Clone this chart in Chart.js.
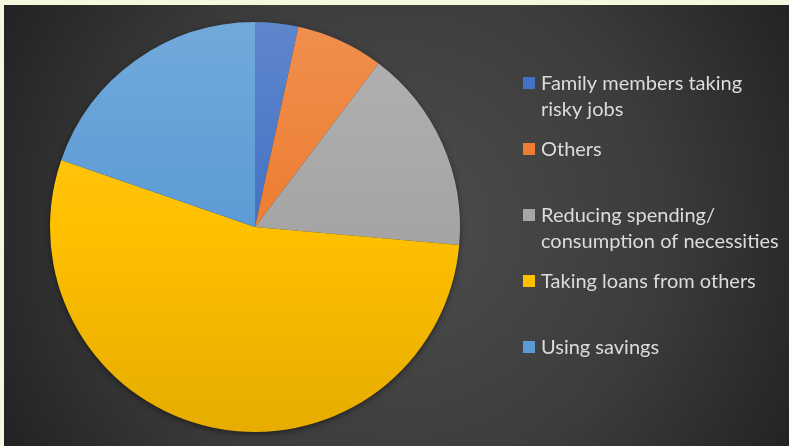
<!DOCTYPE html>
<html>
<head>
<meta charset="utf-8">
<script src="https://cdn.jsdelivr.net/npm/chart.js@4/dist/chart.umd.min.js"></script>
<style>
  html, body { margin: 0; padding: 0; background: #f3f8df; }
  #wrap { position: relative; width: 789px; height: 446px; }
</style>
</head>
<body>
<div id="wrap"><canvas id="c" width="789" height="446"></canvas></div>
<script>
// Coping strategies, share of households (%)
const categories = [
  ['Family members taking', 'risky jobs'],
  ['Others'],
  ['Reducing spending/', 'consumption of necessities'],
  ['Taking loans from others'],
  ['Using savings']
];
const shares = [3.4, 6.9, 16.1, 53.9, 19.7];
const sliceColors = ['#4472C4', '#ED7D31', '#A5A5A5', '#FFC000', '#5B9BD5'];

function shade(hex, amt) {
  const n = parseInt(hex.slice(1), 16);
  let r = (n >> 16) & 255, g = (n >> 8) & 255, b = n & 255;
  const t = amt > 0 ? 255 : 0, p = Math.abs(amt);
  r = Math.round(r + (t - r) * p);
  g = Math.round(g + (t - g) * p);
  b = Math.round(b + (t - b) * p);
  return `rgb(${r},${g},${b})`;
}

// Dark panel with a soft radial highlight
const panelBackground = {
  id: 'panelBackground',
  beforeDraw(chart) {
    const ctx = chart.ctx;
    ctx.save();
    ctx.fillStyle = '#f3f8df';
    ctx.fillRect(0, 0, chart.width, chart.height);
    const g = ctx.createRadialGradient(400, 225, 0, 400, 225, 470);
    g.addColorStop(0, '#4d4d4d');
    g.addColorStop(0.55, '#3c3c3c');
    g.addColorStop(1, '#202020');
    ctx.fillStyle = g;
    ctx.fillRect(4, 5, chart.width - 4, chart.height - 5);
    ctx.restore();
  }
};

// Soft drop shadow beneath the pie
const pieShadow = {
  id: 'pieShadow',
  beforeDatasetsDraw(chart) {
    const arc = chart.getDatasetMeta(0).data[0];
    if (!arc) return;
    const ctx = chart.ctx;
    ctx.save();
    ctx.shadowColor = 'rgba(0,0,0,0.6)';
    ctx.shadowBlur = 7;
    ctx.shadowOffsetY = 2;
    ctx.fillStyle = '#333';
    ctx.beginPath();
    ctx.arc(arc.x, arc.y, arc.outerRadius - 1, 0, Math.PI * 2);
    ctx.fill();
    ctx.restore();
  }
};

// Legend drawn at the right of the pie, one entry every 66px
const sideLegend = {
  id: 'sideLegend',
  afterDraw(chart, args, opts) {
    const ctx = chart.ctx;
    ctx.save();
    ctx.font = opts.font;
    ctx.textBaseline = 'alphabetic';
    chart.data.labels.forEach((lines, i) => {
      const top = opts.top + i * opts.step;
      ctx.fillStyle = sliceColors[i];
      ctx.fillRect(opts.x, top, opts.box, opts.box);
      ctx.fillStyle = opts.color;
      lines.forEach((ln, k) => {
        ctx.fillText(ln, opts.x + opts.box + 6, top + opts.box + 0.5 + k * opts.lineHeight);
      });
    });
    ctx.restore();
  }
};

new Chart(document.getElementById('c'), {
  type: 'pie',
  data: {
    labels: categories,
    datasets: [{
      data: shares,
      borderWidth: 0,
      backgroundColor(context) {
        const chart = context.chart;
        const area = chart.chartArea;
        const base = sliceColors[context.dataIndex];
        if (!area) return base;
        const g = chart.ctx.createLinearGradient(0, area.top, 0, area.bottom);
        g.addColorStop(0, shade(base, 0.14));
        g.addColorStop(0.5, base);
        g.addColorStop(1, shade(base, -0.1));
        return g;
      }
    }]
  },
  options: {
    responsive: false,
    animation: false,
    rotation: 0,
    layout: { padding: { left: 50, top: 22, right: 329, bottom: 14 } },
    plugins: {
      legend: { display: false },
      tooltip: { enabled: false },
      sideLegend: {
        x: 523, top: 77, step: 66, box: 12, lineHeight: 26,
        font: '20px Lato', color: '#dcdcdc'
      }
    }
  },
  plugins: [panelBackground, pieShadow, sideLegend]
});
</script>
</body>
</html>
